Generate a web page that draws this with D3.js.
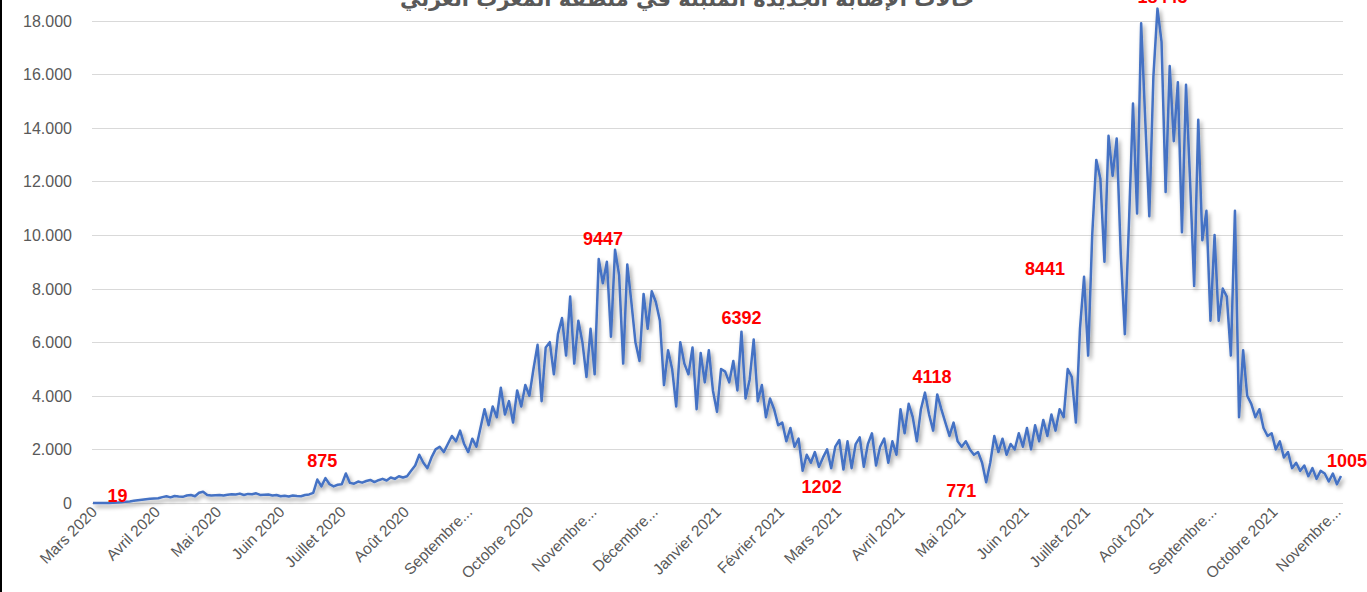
<!DOCTYPE html>
<meta charset="utf-8">
<style>
  body { margin: 0; background: #fff; }
  svg { display: block; }
</style>
<body>
<script src="https://cdn.jsdelivr.net/npm/d3@7"></script>
<script>
// title of the chart (top is cropped in the reference)
var chartTitle = "حالات الإصابة الجديدة المثبتة في منطقة المغرب العربي";

// month tick labels, one per month starting March 2020
var monthLabels = ["Mars 2020", "Avril 2020", "Mai 2020", "Juin 2020", "Juillet 2020", "Août 2020",
  "Septembre...", "Octobre 2020", "Novembre...", "Décembre...", "Janvier 2021", "Février 2021",
  "Mars 2021", "Avril 2021", "Mai 2021", "Juin 2021", "Juillet 2021", "Août 2021",
  "Septembre...", "Octobre 2021", "Novembre..."];

var yTicks = [0, 2000, 4000, 6000, 8000, 10000, 12000, 14000, 16000, 18000];

// new cases, one value every 2 days from 1 March 2020
var firstDay = new Date(2020, 2, 1);
var stepDays = 2;
var newCases = [
  // mars 2020
  0, 0, 0, 0, 2, 8, 19, 30, 45, 60, 80, 100, 120, 140, 160, 170,
  // avril
  180, 220, 250, 210, 260, 240, 230, 280, 300, 250, 380, 420, 300, 280, 290,
  // mai
  300, 280, 310, 330, 320, 350, 300, 340, 330, 360, 300, 310, 320, 280, 300,
  // juin
  250, 270, 240, 280, 260, 250, 300, 320, 380, 875, 620, 930, 700, 620, 680,
  // juillet
  700, 1100, 750, 720, 800, 760, 820, 860, 780, 850, 900, 840, 950, 900, 1000, 950,
  // aout
  1000, 1200, 1400, 1800, 1500, 1300, 1700, 2000, 2100, 1900, 2200, 2500, 2300, 2700, 2200,
  // septembre
  1900, 2400, 2100, 2800, 3500, 2900, 3600, 3200, 4300, 3300, 3800, 3000, 4200, 3600, 4400,
  // octobre
  4000, 5000, 5900, 3800, 5800, 6000, 4800, 6300, 6900, 5500, 7700, 5200, 6800, 6000, 4700, 6500,
  // novembre
  4800, 9100, 8200, 9000, 6200, 9447, 8500, 5200, 8900, 7500, 6000, 5300, 7800, 6500, 7900,
  // decembre
  7500, 6800, 4400, 5700, 5000, 3600, 6000, 5200, 4800, 5800, 3500, 5600, 4500, 5700, 4200,
  // janvier 2021
  3400, 5000, 4900, 4500, 5300, 4200, 6392, 3900, 4600, 6100, 3800, 4400, 3200, 3900, 3500, 2900,
  // fevrier
  3000, 2300, 2800, 2100, 2400, 1202, 1800, 1500, 1900, 1350, 1700, 2000, 1300, 2100,
  // mars
  2350, 1250, 2300, 1300, 2200, 2450, 1350, 2200, 2600, 1400, 2100, 2400, 1500, 2300, 1800,
  // avril
  3500, 2600, 3700, 3200, 2300, 3500, 4118, 3300, 2700, 4050, 3500, 3000, 2500, 3000, 2300,
  // mai
  2100, 2300, 2000, 1800, 1900, 1500, 771, 1500, 2500, 1900, 2400, 1800, 2200, 2000, 2600, 2100,
  // juin
  2800, 2000, 2900, 2300, 3100, 2500, 3300, 2700, 3500, 3200, 5000, 4700, 3000, 6500, 8441,
  // juillet
  5500, 10000, 12800, 12100, 9000, 13700, 12200, 13600, 9300, 6300, 10400, 14900, 10800, 17900, 14300,
  // aout
  10700, 15900, 18443, 17200, 11600, 16300, 13500, 15700, 10100, 15600, 12000, 8100, 14300, 9800, 10900, 6800,
  // septembre
  10000, 6800, 8000, 7700, 5500, 10900, 3200, 5700, 4000, 3700, 3200, 3500, 2800, 2500, 2600,
  // octobre
  2000, 2300, 1700, 1900, 1300, 1500, 1200, 1400, 1000, 1300, 900, 1200, 1100, 800, 1100,
  // novembre
  700, 1005
];

// points that carry a red value label
var calloutIdx = [6, 55, 128, 159, 174, 204, 219, 243, 261, 306];

var width = 1367, height = 592;
var fmt = d3.formatLocale({ decimal: ",", thousands: ".", grouping: [3], currency: ["", ""] }).format(",");

var svg = d3.select("body").append("svg")
  .attr("width", width)
  .attr("height", height);

var points = newCases.map(function (v, i) {
  return { date: d3.timeDay.offset(firstDay, i * stepDays), value: v, i: i };
});

var x = d3.scaleTime()
  .domain([firstDay, new Date(2021, 10, 3)])
  .range([93, 1341]);

var y = d3.scaleLinear()
  .domain([0, 18000])
  .range([503, 20.5]);

// shadow under the line, like the spreadsheet effect
var defs = svg.append("defs");
var f = defs.append("filter").attr("id", "shadow")
  .attr("x", "-5%").attr("y", "-5%").attr("width", "110%").attr("height", "120%");
f.append("feDropShadow")
  .attr("dx", 2).attr("dy", 3).attr("stdDeviation", 2.2)
  .attr("flood-color", "#000").attr("flood-opacity", 0.4);

// gridlines
svg.append("g")
  .selectAll("line")
  .data(yTicks)
  .join("line")
    .attr("x1", 92).attr("x2", 1343)
    .attr("y1", function (d) { return Math.round(y(d)) + 0.5; })
    .attr("y2", function (d) { return Math.round(y(d)) + 0.5; })
    .attr("stroke", "#d9d9d9")
    .attr("stroke-width", 1);

// y axis labels
svg.append("g")
  .selectAll("text")
  .data(yTicks)
  .join("text")
    .attr("x", 72)
    .attr("y", function (d) { return y(d) + 6; })
    .attr("text-anchor", "end")
    .attr("font-family", "Liberation Sans, Arial, sans-serif")
    .attr("font-size", 16)
    .attr("fill", "#595959")
    .text(function (d) { return fmt(d); });

// x axis labels, rotated
var months = d3.timeMonth.range(firstDay, new Date(2021, 10, 2));
svg.append("g")
  .selectAll("text")
  .data(months)
  .join("text")
    .attr("transform", function (d) { return "translate(" + (x(d) + 5) + ",513) rotate(-45)"; })
    .attr("text-anchor", "end")
    .attr("font-family", "Liberation Sans, Arial, sans-serif")
    .attr("font-size", 15.5)
    .attr("fill", "#595959")
    .text(function (d, i) { return monthLabels[i]; });

// the line
var line = d3.line()
  .x(function (d) { return x(d.date); })
  .y(function (d) { return y(d.value); });

svg.append("path")
  .datum(points)
  .attr("d", line)
  .attr("fill", "none")
  .attr("stroke", "#4472C4")
  .attr("stroke-width", 2.5)
  .attr("stroke-linejoin", "round")
  .attr("filter", "url(#shadow)");

// value labels, offsets from the data point
var calloutOffset = [[0, 0], [5, -13], [-12, -5], [0, -8], [19, 22], [7, -10], [-25, 15], [-39, -2], [5, -6], [6, -9]];
svg.append("g")
  .selectAll("text")
  .data(calloutIdx)
  .join("text")
    .attr("x", function (d, k) { return x(points[d].date) + calloutOffset[k][0]; })
    .attr("y", function (d, k) { return y(points[d].value) + calloutOffset[k][1]; })
    .attr("text-anchor", "middle")
    .attr("font-family", "Liberation Sans, Arial, sans-serif")
    .attr("font-weight", "bold")
    .attr("font-size", 18)
    .attr("fill", "#ff0000")
    .text(function (d) { return points[d].value; });

// title, cropped at the top
svg.append("text")
  .attr("x", 687)
  .attr("y", 6)
  .attr("text-anchor", "middle")
  .attr("direction", "rtl")
  .attr("font-family", "DejaVu Sans, sans-serif")
  .attr("font-weight", "bold")
  .attr("font-size", 21)
  .attr("fill", "#595959")
  .text(chartTitle);

// black border at the left edge
svg.append("line")
  .attr("x1", 1).attr("x2", 1)
  .attr("y1", 0).attr("y2", height)
  .attr("stroke", "#000")
  .attr("stroke-width", 2);
</script>
</body>
